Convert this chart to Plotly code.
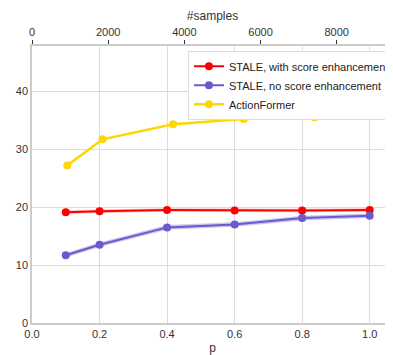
import plotly.graph_objects as go

p = [0.1, 0.2, 0.4, 0.6, 0.8, 1.0]
stale_score = [19.1, 19.3, 19.5, 19.4, 19.4, 19.5]
stale_score_lo = [18.8, 19.0, 19.2, 19.1, 19.1, 19.2]
stale_score_hi = [19.4, 19.6, 19.8, 19.7, 19.7, 19.8]
stale_noscore = [11.7, 13.5, 16.5, 17.0, 18.1, 18.5]
stale_noscore_lo = [11.3, 13.1, 16.1, 16.6, 17.7, 18.1]
stale_noscore_hi = [12.1, 13.9, 16.9, 17.4, 18.5, 18.9]
samples = [926, 1852, 3704, 5556, 7408, 9260]
actionformer = [27.2, 31.7, 34.3, 35.2, 35.5, 35.9]

font = "Liberation Sans, Arial, sans-serif"
fig = go.Figure()

def band(x, lo, hi, color, xaxis="x"):
    fig.add_trace(go.Scatter(x=x, y=hi, mode="lines", line=dict(width=0),
                             showlegend=False, hoverinfo="skip", xaxis=xaxis))
    fig.add_trace(go.Scatter(x=x, y=lo, mode="lines", line=dict(width=0),
                             fill="tonexty", fillcolor=color,
                             showlegend=False, hoverinfo="skip", xaxis=xaxis))

band(p, stale_score_lo, stale_score_hi, "rgba(255,0,0,0.25)")
band(p, stale_noscore_lo, stale_noscore_hi, "rgba(106,90,205,0.35)")

fig.add_trace(go.Scatter(x=p, y=stale_score, mode="lines+markers",
                         name="STALE, with score enhancement",
                         line=dict(color="#ff0000", width=2),
                         marker=dict(color="#ff0000", size=8)))
fig.add_trace(go.Scatter(x=p, y=stale_noscore, mode="lines+markers",
                         name="STALE, no score enhancement",
                         line=dict(color="#6a5acd", width=2),
                         marker=dict(color="#6a5acd", size=8)))
fig.add_trace(go.Scatter(x=samples, y=actionformer, mode="lines+markers",
                         name="ActionFormer", xaxis="x2",
                         line=dict(color="#ffd700", width=2.5),
                         marker=dict(color="#ffd700", size=8)))

fig.update_layout(
    width=385, height=347,
    margin=dict(l=24, r=0, t=38, b=32, autoexpand=False),
    paper_bgcolor="white", plot_bgcolor="white",
    font=dict(family=font, size=11, color="#333333"),
    xaxis=dict(range=[0, 1.069], tickvals=[0, 0.2, 0.4, 0.6, 0.8, 1.0],
               ticktext=["0.0", "0.2", "0.4", "0.6", "0.8", "1.0"],
               showgrid=True, gridcolor="#dcdcdc", gridwidth=1,
               showline=True, linecolor="#cccccc", linewidth=1.5,
               zeroline=False, ticks="", automargin=False,
               title=dict(text="p", standoff=6, font=dict(size=12))),
    xaxis2=dict(range=[0, 9477], overlaying="x", side="top",
                tickvals=[0, 2000, 4000, 6000, 8000],
                showgrid=False, zeroline=False, automargin=False,
                showline=True, linecolor="#cccccc", linewidth=1.5,
                ticks="outside", ticklen=4, tickcolor="#333333", tickwidth=1,
                title=dict(text="#samples", standoff=3, font=dict(size=12))),
    yaxis=dict(range=[0, 47.8], tickvals=[0, 10, 20, 30, 40],
               showgrid=True, gridcolor="#dcdcdc", gridwidth=1,
               showline=True, linecolor="#cccccc", linewidth=1.5,
               zeroline=False, ticks="", automargin=False),
    legend=dict(x=0.432, y=0.983, xanchor="left", yanchor="top",
                bgcolor="white", bordercolor="#dddddd", borderwidth=1,
                font=dict(size=11, color="#222222"), traceorder="normal",
                tracegroupgap=0, itemwidth=30),
)

fig.write_html("out.html")
